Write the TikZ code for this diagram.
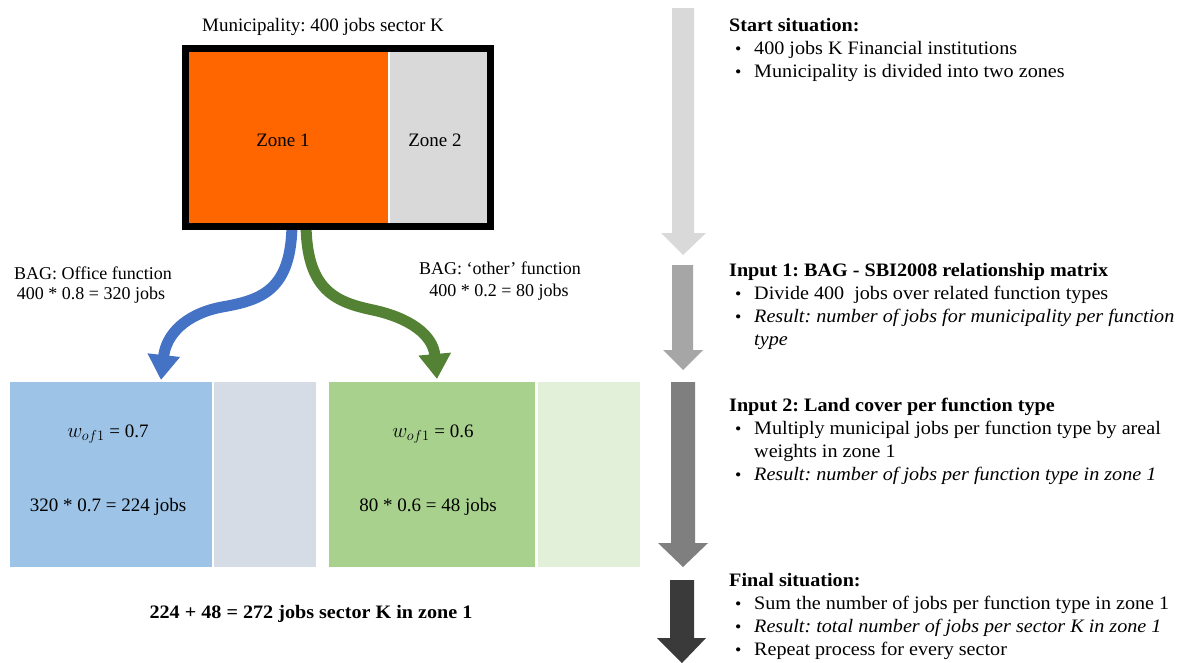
\documentclass[tikz,border=0pt]{standalone}
\usepackage{fontspec}
\setmainfont{Liberation Serif}
\newfontfamily\widefont[FakeStretch=1.06]{Liberation Serif}
\usetikzlibrary{arrows.meta}
\frenchspacing
\definecolor{zoneorange}{HTML}{FF6600}
\definecolor{zonegray}{HTML}{D9D9D9}
\definecolor{boxblue}{HTML}{9DC3E6}
\definecolor{boxbluegray}{HTML}{D6DCE5}
\definecolor{boxgreen}{HTML}{A9D18E}
\definecolor{boxlightgreen}{HTML}{E2F0D9}
\definecolor{arrblue}{HTML}{4472C4}
\definecolor{arrgreen}{HTML}{548235}
\definecolor{step1}{HTML}{D9D9D9}
\definecolor{step2}{HTML}{A6A6A6}
\definecolor{step3}{HTML}{7F7F7F}
\definecolor{step4}{HTML}{3A3A3A}
\begin{document}
\begin{tikzpicture}[x=1pt,y=-1pt,
  txt/.style={font=\fontsize{18}{22}\selectfont\frenchspacing, inner sep=0pt},
  lbl/.style={txt, anchor=base},
  biglbl/.style={lbl, font=\fontsize{19}{22}\selectfont\frenchspacing},
  wide/.style={inner sep=0pt, font=\widefont\fontsize{19}{23}\selectfont\frenchspacing},
  head/.style={wide, anchor=base west, font=\widefont\fontsize{19}{23}\selectfont\bfseries\frenchspacing},
  bul/.style={wide, anchor=base west},
  area/.style={inner sep=0pt, anchor=north west},
  curvearrow/.style={line width=11pt, -{Triangle[width=31pt 0, length=25pt 0]}}
]
\useasboundingbox (0,0) rectangle (1177,662);
\fill[white] (0,0) rectangle (1177,662);

% ---- curved arrows (drawn first, box covers their start)
\coordinate (bstart) at (292,222);
\coordinate (btip) at (161,380);
\coordinate (gstart) at (306,222);
\coordinate (gtip) at (437,379);
\draw[curvearrow, arrblue] (bstart) .. controls (292,290) and (262,300) .. (222,307)
   .. controls (185,314) and (166,335) .. (btip);
\draw[curvearrow, arrgreen] (gstart) .. controls (306,290) and (335,302) .. (373,310)
   .. controls (410,318) and (433,335) .. (gtip);

% ---- municipality box
\node[area, fill=zoneorange, minimum width=199pt, minimum height=171pt] (z1) at (189,52) {};
\node[area, fill=zonegray, minimum width=97pt, minimum height=171pt] (z2) at (390,52) {};
\node[biglbl] (z1t) at (283,146) {Zone 1};
\node[biglbl] (z2t) at (435,146) {Zone 2};
\node[draw=black, line width=7pt, minimum width=305pt, minimum height=178pt, inner sep=0pt] (muni) at (338,137.5) {};
\node[biglbl] (munit) at (323,31) {Municipality: 400 jobs sector K};

% ---- arrow labels
\node[lbl] (bl1) at (93,279) {BAG: Office function};
\node[lbl] (bl2) at (91,299) {400 * 0.8 = 320 jobs};
\node[lbl] (gl1) at (500,274) {BAG: ‘other’ function};
\node[lbl] (gl2) at (499,296) {400 * 0.2 = 80 jobs};

% ---- bottom boxes
\node[area, fill=boxblue, minimum width=202pt, minimum height=185pt] (b1) at (10,382) {};
\node[area, fill=boxbluegray, minimum width=102pt, minimum height=185pt] (b2) at (214,382) {};
\node[area, fill=boxgreen, minimum width=206pt, minimum height=185pt] (g1) at (329,382) {};
\node[area, fill=boxlightgreen, minimum width=102pt, minimum height=185pt] (g2) at (538,382) {};
\node[biglbl] (b1w) at (108,437) {\fontsize{22}{24}\selectfont$w_{of1}$\fontsize{19}{22}\selectfont{} = 0.7};
\node[biglbl] (b1j) at (108,511) {320 * 0.7 = 224 jobs};
\node[biglbl] (g1w) at (433,437) {\fontsize{22}{24}\selectfont$w_{of1}$\fontsize{19}{22}\selectfont{} = 0.6};
\node[biglbl] (g1j) at (428,511) {80 * 0.6 = 48 jobs};
\node[wide, anchor=base, font=\widefont\fontsize{19}{23}\selectfont\bfseries\frenchspacing] (sum) at (311,618) {224 + 48 = 272 jobs sector K in zone 1};

% ---- process arrows on the right
\fill[step1] (672,8) -- (694,8) -- (694,233) -- (706,233) -- (683,255) -- (661,233) -- (672,233) -- cycle;
\fill[step2] (672,265) -- (693,265) -- (693,350) -- (703,350) -- (683,370) -- (663,350) -- (672,350) -- cycle;
\fill[step3] (671,382) -- (695,382) -- (695,543) -- (708,543) -- (683,567) -- (658,543) -- (671,543) -- cycle;
\fill[step4] (670,580) -- (694,580) -- (694,638) -- (706,638) -- (682,663) -- (657,638) -- (670,638) -- cycle;

% ---- right text
\newcommand{\bl}{\makebox[19pt][l]{\fontsize{17}{17}\selectfont\textbullet}}
\node[head] (h1) at (729,31) {Start situation:};
\node[bul] (h1a) at (735,54) {\bl 400 jobs K Financial institutions};
\node[bul] (h1b) at (735,77) {\bl Municipality is divided into two zones};

\node[head] (h2) at (729,276) {Input 1: BAG - SBI2008 relationship matrix};
\node[bul] (h2a) at (735,299) {\bl Divide 400\ \ jobs over related function types};
\node[bul] (h2b) at (735,322) {\bl \itshape Result: number of jobs for municipality per function};
\node[bul] (h2c) at (735,345) {\hspace*{19pt}\itshape type};

\node[head] (h3) at (729,411) {Input 2: Land cover per function type};
\node[bul] (h3a) at (735,434) {\bl Multiply municipal jobs per function type by areal};
\node[bul] (h3b) at (735,457) {\hspace*{19pt}weights in zone 1};
\node[bul] (h3c) at (735,480) {\bl \itshape Result: number of jobs per function type in zone 1};

\node[head] (h4) at (729,586) {Final situation:};
\node[bul] (h4a) at (735,609) {\bl Sum the number of jobs per function type in zone 1};
\node[bul] (h4b) at (735,632) {\bl \itshape Result: total number of jobs per sector K in zone 1};
\node[bul] (h4c) at (735,655) {\bl Repeat process for every sector};
\end{tikzpicture}
\end{document}
